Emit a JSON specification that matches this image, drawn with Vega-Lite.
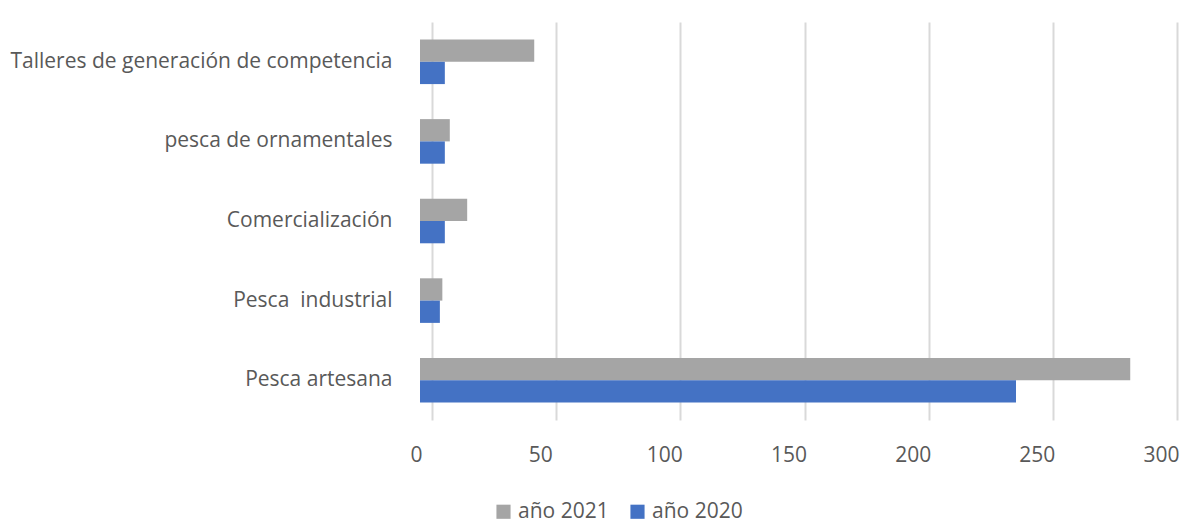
{
  "$schema": "https://vega.github.io/schema/vega-lite/v6.json",
  "autosize": {"type": "none"},
  "padding": {"left": 420, "top": 22, "right": 17, "bottom": 105},
  "width": 745,
  "height": 398,
  "background": "white",
  "config": {
    "font": "Open Sans",
    "view": {"stroke": null}
  },
  "data": {
    "values": [
      {"categoria": "Talleres de generación de competencia", "serie": "año 2021", "valor": 46},
      {"categoria": "Talleres de generación de competencia", "serie": "año 2020", "valor": 10},
      {"categoria": "pesca de ornamentales", "serie": "año 2021", "valor": 12},
      {"categoria": "pesca de ornamentales", "serie": "año 2020", "valor": 10},
      {"categoria": "Comercialización", "serie": "año 2021", "valor": 19},
      {"categoria": "Comercialización", "serie": "año 2020", "valor": 10},
      {"categoria": "Pesca\u00a0 industrial", "serie": "año 2021", "valor": 9},
      {"categoria": "Pesca\u00a0 industrial", "serie": "año 2020", "valor": 8},
      {"categoria": "Pesca artesana", "serie": "año 2021", "valor": 286},
      {"categoria": "Pesca artesana", "serie": "año 2020", "valor": 240}
    ]
  },
  "mark": {"type": "bar"},
  "encoding": {
    "y": {
      "field": "categoria",
      "type": "nominal",
      "sort": null,
      "scale": {"paddingInner": 0.44, "paddingOuter": 0.22},
      "axis": {
        "title": null,
        "domain": false,
        "ticks": false,
        "labelPadding": 28,
        "labelFontSize": 21,
        "labelColor": "#595959",
        "labelLimit": 500
      }
    },
    "yOffset": {
      "field": "serie",
      "type": "nominal",
      "sort": ["año 2021", "año 2020"]
    },
    "x": {
      "field": "valor",
      "type": "quantitative",
      "scale": {"domain": [0, 300], "nice": false},
      "axis": {
        "title": null,
        "values": [0, 50, 100, 150, 200, 250, 300],
        "domain": false,
        "ticks": false,
        "grid": true,
        "gridColor": "#d9d9d9",
        "gridWidth": 2,
        "tickOffset": 12,
        "labelOffset": -16,
        "labelFlush": false,
        "labelBound": false,
        "labelPadding": 24,
        "labelFontSize": 21,
        "labelColor": "#595959"
      }
    },
    "color": {
      "field": "serie",
      "type": "nominal",
      "scale": {"domain": ["año 2021", "año 2020"], "range": ["#a5a5a5", "#4472c4"]},
      "legend": {
        "title": null,
        "orient": "none",
        "direction": "horizontal",
        "legendX": 73,
        "legendY": 479,
        "symbolType": "square",
        "symbolSize": 200,
        "symbolStrokeWidth": 0,
        "labelFontSize": 21,
        "labelColor": "#595959",
        "columnPadding": 18,
        "labelOffset": 4
      }
    }
  }
}
